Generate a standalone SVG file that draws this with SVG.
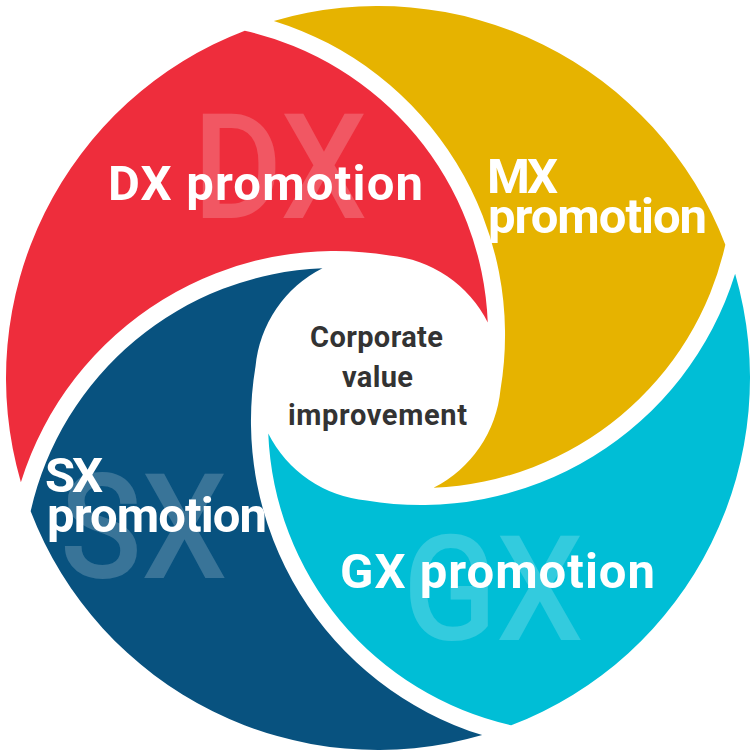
<svg xmlns="http://www.w3.org/2000/svg" xmlns:xlink="http://www.w3.org/1999/xlink" width="756" height="756" viewBox="0 0 756 756">
  <style>
    .label { font-family: Roboto, "Liberation Sans", sans-serif; font-weight: 700; fill: #ffffff; font-size: 49px; }
    .mark { font-family: Roboto, "Liberation Sans", sans-serif; font-weight: 500; fill: #ffffff; fill-opacity: 0.2; font-size: 146px; }
    .center { font-family: Roboto, "Liberation Sans", sans-serif; font-weight: 700; fill: #333333; font-size: 29px; }
  </style>
  <defs>
    <path id="blade" d="M 244.78,30.67 A 372 372 0 0 0 20.88,482.17 A 329 329 0 0 1 389.5,255.5 A 123 123 0 0 1 487.75,322.44 A 312 312 0 0 0 244.78,30.67 Z"/>
  </defs>
  <rect width="756" height="756" fill="#ffffff"/>

  <g id="dx">
    <use xlink:href="#blade" href="#blade" fill="#EE2D3C"/>
    <text class="mark" x="193" y="218" textLength="174" lengthAdjust="spacingAndGlyphs">DX</text>
    <text class="label" x="108" y="200" textLength="315" lengthAdjust="spacing">DX promotion</text>
  </g>

  <g id="mx">
    <use xlink:href="#blade" href="#blade" fill="#E6B300" transform="rotate(90 378 378)"/>
    <text class="label" x="487" y="193" textLength="71" lengthAdjust="spacing">MX</text>
    <text class="label" x="488" y="233" textLength="219" lengthAdjust="spacing">promotion</text>
  </g>

  <g id="gx">
    <use xlink:href="#blade" href="#blade" fill="#00BED6" transform="rotate(180 378 378)"/>
    <text class="mark" x="403" y="640" textLength="180" lengthAdjust="spacingAndGlyphs">GX</text>
    <text class="label" x="340" y="588" textLength="315" lengthAdjust="spacing">GX promotion</text>
  </g>

  <g id="sx">
    <use xlink:href="#blade" href="#blade" fill="#08527F" transform="rotate(270 378 378)"/>
    <text class="mark" x="60" y="578" textLength="167" lengthAdjust="spacingAndGlyphs">SX</text>
    <text class="label" x="45" y="492" textLength="58" lengthAdjust="spacing">SX</text>
    <text class="label" x="47" y="532" textLength="220" lengthAdjust="spacing">promotion</text>
  </g>

  <g id="center">
    <text class="center" x="310" y="347" textLength="133" lengthAdjust="spacing">Corporate</text>
    <text class="center" x="342" y="387" textLength="71" lengthAdjust="spacing">value</text>
    <text class="center" x="288" y="425" textLength="179" lengthAdjust="spacing">improvement</text>
  </g>
</svg>
